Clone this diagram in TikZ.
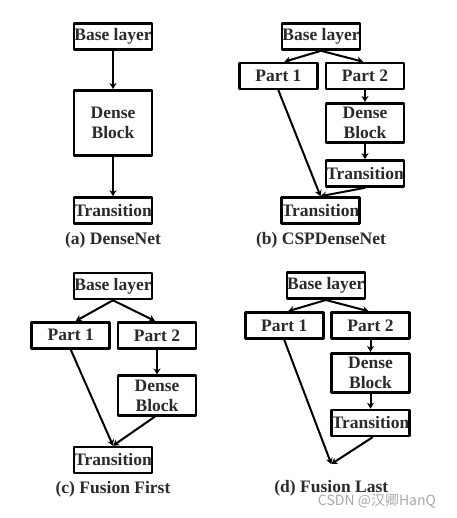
\documentclass[tikz,border=0pt]{standalone}
\usepackage{fontspec}
\setmainfont{Liberation Serif}
\newfontfamily\cjk{Noto Sans CJK SC}
\usepackage{xcolor}
\usetikzlibrary{arrows.meta,calc}
\definecolor{ink}{HTML}{2A2A2A}
\definecolor{wm}{HTML}{A8A8A8}

\begin{document}
\begin{tikzpicture}[x=1pt,y=-1pt,line cap=round,line join=round,
    blk/.style={draw=black,line width=2.6pt,inner sep=0pt,minimum width=78pt,
      minimum height=26pt,align=center,text=ink,font=\fontsize{17.5}{20}\selectfont\bfseries},
    dense/.style={blk,minimum height=39.5pt},
    subcap/.style={text=ink,font=\fontsize{17.5}{20}\selectfont\bfseries},
    flow/.style={line width=2pt,-{Stealth[length=6pt,width=7pt]}}]
  \useasboundingbox (0,0) rectangle (456,518);

  % (a) DenseNet
  \node[blk] (aBase) at (113,36.5) {Base layer};
  \node[blk,minimum height=65.5pt] (aDense) at (113,123) {Dense\\Block};
  \node[blk] (aTrans) at (113,210.5) {Transition};
  \node[subcap] (aCap) at (113,240) {(a) DenseNet};
  \draw[flow] (aBase) -- (aDense);
  \draw[flow] (aDense) -- (aTrans);

  % (b) CSPDenseNet
  \node[blk] (bBase) at (321,36.5) {Base layer};
  \node[blk] (bPartA) at (278.4,76) {Part 1};
  \node[blk] (bPartB) at (365,76) {Part 2};
  \node[dense] (bDense) at (365,123) {Dense\\Block};
  \node[blk] (bTransB) at (365,173.5) {Transition};
  \node[blk] (bTrans) at (320.5,210.5) {Transition};
  \node[subcap] (bCap) at (321,240) {(b) CSPDenseNet};
  \draw[flow] (bBase.south) -- ([xshift=6pt]bPartA.north);
  \draw[flow] (bBase.south) -- ([xshift=-2pt]bPartB.north);
  \draw[flow] (bPartB) -- (bDense);
  \draw[flow] (bDense) -- (bTransB);
  \draw[flow] (bPartA.south) -- (bTrans.north);
  \draw[flow] (bTransB.south) -- (bTrans.north);

  % (c) Fusion First
  \node[blk] (cBase) at (113,286) {Base layer};
  \node[blk] (cPartA) at (70.7,335.3) {Part 1};
  \node[blk] (cPartB) at (157,335.3) {Part 2};
  \node[dense] (cDense) at (157,395.5) {Dense\\Block};
  \node[blk] (cTrans) at (113,460) {Transition};
  \node[subcap] (cCap) at (113,489) {(c) Fusion First};
  \draw[flow] (cBase.south) -- ([xshift=5pt]cPartA.north);
  \draw[flow] (cBase.south) -- ([xshift=-2pt]cPartB.north);
  \draw[flow] (cPartB) -- (cDense);
  \draw[flow] (cPartA.south) -- (cTrans.north);
  \draw[flow] ([xshift=-2pt]cDense.south) -- (cTrans.north);

  % (d) Fusion Last
  \node[blk] (dBase) at (325.8,285.7) {Base layer};
  \node[blk] (dPartA) at (284.2,325.5) {Part 1};
  \node[blk] (dPartB) at (370.5,325.5) {Part 2};
  \node[dense] (dDense) at (370.5,373) {Dense\\Block};
  \node[blk] (dTrans) at (370.5,423) {Transition};
  \coordinate (dFuse) at (331.3,464);
  \node[subcap] (dCap) at (331.3,488) {(d) Fusion Last};
  \draw[flow] (dBase.south) -- ([xshift=4pt]dPartA.north);
  \draw[flow] (dBase.south) -- ([xshift=-2pt]dPartB.north);
  \draw[flow] (dPartB) -- (dDense);
  \draw[flow] (dDense) -- (dTrans);
  \draw[flow] (dPartA.south) -- (dFuse);
  \draw[flow] ([xshift=2pt]dTrans.south) -- (dFuse);

  \node[text=wm,font=\cjk\fontsize{14}{16}\selectfont] (wmark) at (377,501.5) {CSDN @汉卿HanQ};
\end{tikzpicture}
\end{document}
